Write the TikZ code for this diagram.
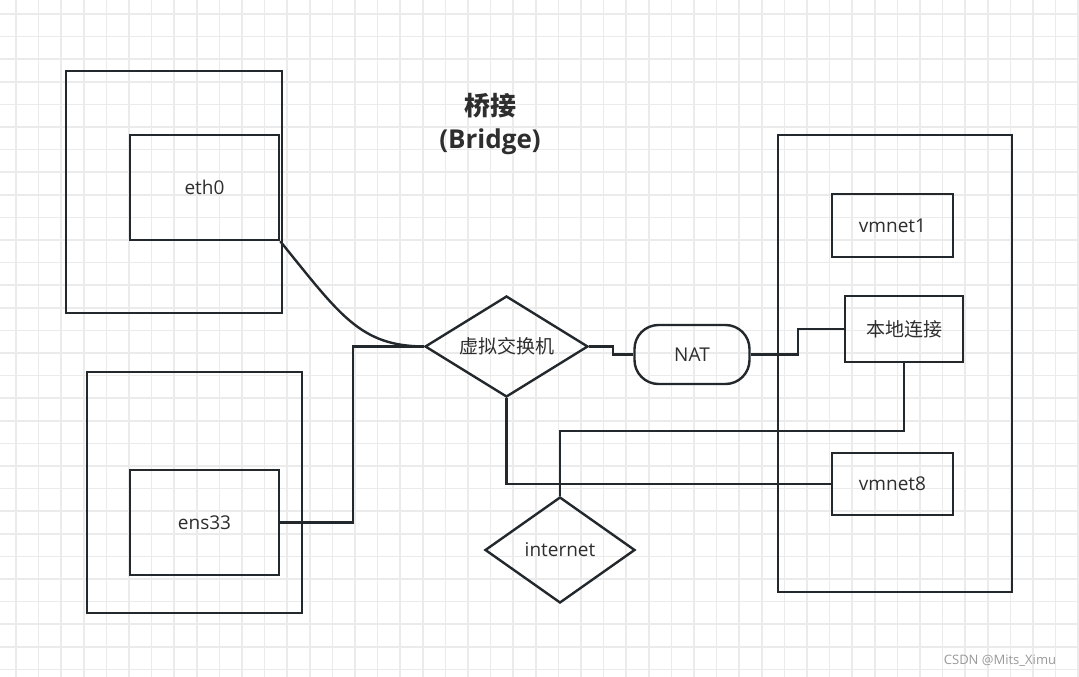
\documentclass[tikz,border=0pt]{standalone}
\usepackage{fontspec}
\setmainfont{Open Sans}
\newfontfamily\cjk{Noto Sans CJK SC}
\usetikzlibrary{shapes.geometric}
\definecolor{linec}{HTML}{23282D}
\definecolor{textc}{HTML}{2E2E2E}
\definecolor{gridc}{HTML}{EBEBEB}
\tikzset{
  box/.style={draw=linec, line width=2.4pt, minimum width=#1, inner sep=0pt, text=textc,
    font=\fontsize{19}{22}\selectfont},
  switchbox/.style={box=#1, shape=diamond, aspect=1.6},
  wire/.style={draw=linec, line width=2.4pt},
}
\begin{document}
\begin{tikzpicture}[x=1pt,y=-1pt]
                    \useasboundingbox[fill=white] (0,0) rectangle (1079,677);
                    % background grid
                    \foreach \i in {0,...,47}
                      \draw[gridc,line width=1.6pt] (16+22.6*\i,0) -- (16+22.6*\i,677);
                    \foreach \j in {0,...,29}
                      \draw[gridc,line width=1.6pt] (0,14+22.6*\j) -- (1079,14+22.6*\j);
                    % hosts on the left
                    \node[box=216pt, minimum height=242pt] (host1) at (174,192) {};
                    \node[box=149pt, minimum height=105pt] (eth0) at (204.5,187.5) {eth0};
                    \node[box=215pt, minimum height=241pt] (host2) at (194.5,492.5) {};
                    \node[box=149pt, minimum height=105pt] (ens33) at (204.5,522.5) {ens33};
                    % title
                    \node[text=textc, align=center, font=\fontsize{26}{33}\selectfont\bfseries] (title) at (490,124)
                      {{\cjk\bfseries 桥接}\\(Bridge)};
                    % middle
                    \node[switchbox=163pt, minimum height=101pt] (switch) at (506.5,346.5) {\cjk 虚拟交换机};
                    \node[box=115pt, minimum height=59pt, rounded corners=24pt] (nat) at (692,354.5) {NAT};
                    \node[switchbox=150pt, minimum height=106pt] (internet) at (560,550) {internet};
                    % host on the right
                    \node[box=234pt, minimum height=457pt] (vmhost) at (895,363.5) {};
                    \node[box=121pt, minimum height=63pt] (vmnet1) at (892.5,225.5) {vmnet1};
                    \node[box=118pt, minimum height=66pt] (local) at (904,329) {\cjk 本地连接};
                    \node[box=121pt, minimum height=62pt] (vmnet8) at (892.5,484) {vmnet8};
                    % connections
                    \draw[wire] (eth0.south east) .. controls (340,315) and (360,346) .. (switch.west);
                    \draw[wire] (ens33.east) -- ++(73,0) |- (switch.west);
                    \draw[wire] (switch.east) -- ++(24,0) |- (nat.west);
                    \draw[wire] (nat.east) -- ++(47,0) |- (local.west);
                    \draw[wire] (switch.south) |- (vmnet8.west);
                    \coordinate (turn) at (560,431);
                    \draw[wire] (internet.north) -- (turn) -| (local.south);
                    % watermark
                    \node[text=gray!80, font=\fontsize{13}{15}\selectfont] (mark) at (1000,661) {CSDN @Mits\_Ximu};
                \end{tikzpicture}
\end{document}
